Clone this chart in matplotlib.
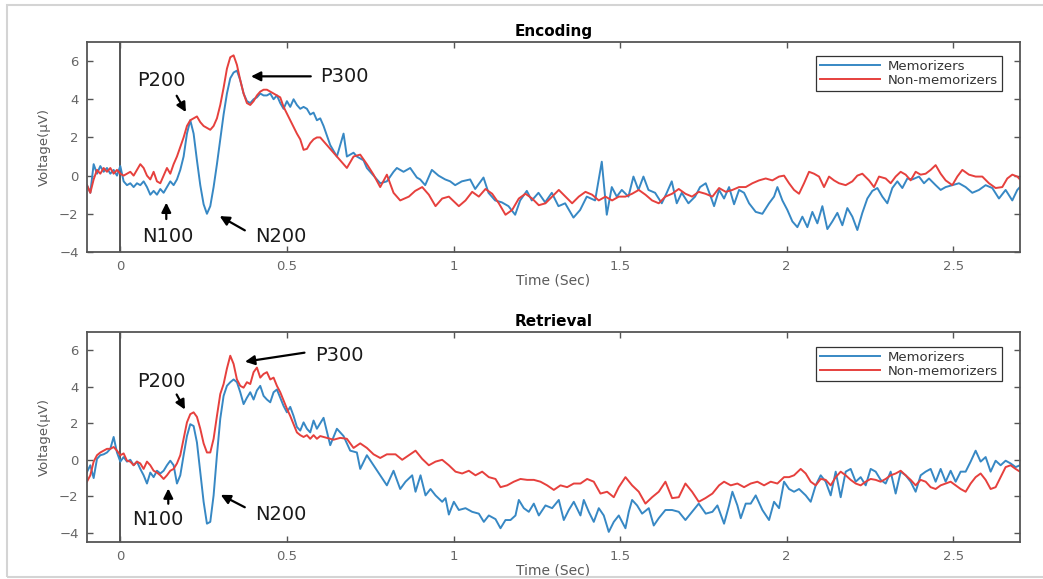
import numpy as np
import matplotlib
matplotlib.use('Agg')
import matplotlib.pyplot as plt
from matplotlib.patches import Rectangle

''' DATA (read off the figure) '''
# sample times of the ERP part, shared by all four traces (-0.10 .. 0.59 s)
erp_t = np.round(np.arange(-0.10, 0.595, 0.01), 2)

# Encoding, memorizers
enc_mem_erp = [-0.5, -0.9, 0.6, 0.1, 0.5, 0.2, 0.4, 0.1, 0.3, 0.0,
               0.5, -0.3, -0.5, -0.4, -0.6, -0.4, -0.5, -0.3, -0.6, -1.0,
               -0.8, -1.0, -0.7, -0.9, -0.6, -0.3, -0.5, -0.2, 0.3, 1.0,
               2.2, 2.9, 2.2, 0.8, -0.5, -1.5, -2.0, -1.6, -0.6, 0.6,
               1.9, 3.2, 4.3, 5.1, 5.4, 5.5, 5.0, 4.3, 3.9, 3.8,
               4.0, 4.1, 4.3, 4.2, 4.2, 4.3, 4.0, 4.2, 3.8, 3.5,
               3.9, 3.6, 4.0, 3.7, 3.5, 3.6, 3.5, 3.2, 3.3, 2.9]
enc_mem_tail_t = [0.60, 0.61, 0.63, 0.65, 0.67, 0.68, 0.70, 0.71, 0.73, 0.74, 0.76, 0.78, 0.80, 0.82, 0.83,
                  0.85, 0.87, 0.89, 0.90, 0.915, 0.935, 0.955, 0.975, 0.99, 1.005, 1.025, 1.05, 1.065, 1.09,
                  1.105, 1.125, 1.145, 1.165, 1.185, 1.20, 1.22, 1.235, 1.255, 1.275, 1.295, 1.315, 1.335,
                  1.36, 1.38, 1.40, 1.425, 1.445, 1.46, 1.475, 1.49, 1.505, 1.525, 1.54, 1.555, 1.57, 1.585,
                  1.605, 1.625, 1.64, 1.655, 1.67, 1.685, 1.705, 1.725, 1.74, 1.757, 1.772, 1.782, 1.797,
                  1.812, 1.827, 1.842, 1.857, 1.872, 1.887, 1.907, 1.927, 1.947, 1.962, 1.972, 1.987, 2.002,
                  2.017, 2.032, 2.047, 2.062, 2.077, 2.092, 2.107, 2.122, 2.137, 2.152, 2.167, 2.182, 2.197,
                  2.212, 2.227, 2.242, 2.257, 2.272, 2.287, 2.302, 2.317, 2.332, 2.347, 2.362, 2.377, 2.397,
                  2.412, 2.427, 2.447, 2.462, 2.477, 2.497, 2.517, 2.537, 2.557, 2.577, 2.597, 2.617, 2.637,
                  2.657, 2.677, 2.692, 2.70]
enc_mem_tail_v = [3.0, 2.6, 1.6, 1.0, 2.2, 1.0, 1.2, 1.0, 0.8, 0.4, 0.0, -0.4, -0.3, 0.2, 0.4,
                  0.2, 0.4, -0.1, -0.2, -0.5, 0.3, 0.0, -0.2, -0.3, -0.5, -0.3, -0.2, -0.7, -0.1,
                  -0.9, -1.3, -1.4, -1.6, -2.05, -1.3, -0.8, -1.3, -0.9, -1.4, -0.9, -1.6, -1.45,
                  -2.2, -1.8, -1.1, -1.3, 0.73, -2.05, -0.6, -1.1, -0.75, -1.1, -0.05, -0.75, -0.05, -0.75,
                  -0.9, -1.45, -0.9, -0.3, -1.45, -0.9, -1.45, -1.1, -0.6, -0.4, -1.1, -1.6, -0.75,
                  -1.2, -0.6, -1.5, -0.75, -0.9, -1.45, -1.9, -2.0, -1.45, -1.1, -0.6, -1.3, -1.8,
                  -2.4, -2.7, -2.15, -2.7, -1.9, -2.5, -1.6, -2.8, -2.4, -1.95, -2.6, -1.7, -2.15,
                  -2.85, -1.95, -1.2, -0.8, -0.65, -1.1, -1.45, -0.65, -0.3, -0.65, -0.15, -0.2, -0.05,
                  -0.4, -0.15, -0.5, -0.75, -0.6, -0.5, -0.4, -0.6, -0.9, -0.75, -0.5, -0.65, -1.2,
                  -0.75, -1.3, -0.75, -0.6]

# Encoding, non-memorizers
enc_non_erp = [-0.5, -0.9, -0.2, 0.3, 0.1, 0.4, 0.2, 0.4, 0.1, 0.3,
               0.1, 0.0, 0.1, 0.2, 0.0, 0.3, 0.6, 0.4, 0.0, -0.2,
               0.2, -0.3, -0.4, 0.0, 0.4, 0.1, 0.6, 1.0, 1.5, 2.0,
               2.6, 2.9, 3.0, 3.1, 2.8, 2.6, 2.5, 2.4, 2.6, 3.0,
               3.7, 4.6, 5.6, 6.2, 6.3, 5.8, 5.0, 4.3, 3.8, 3.7,
               3.9, 4.2, 4.4, 4.5, 4.5, 4.4, 4.3, 4.2, 4.1, 3.6,
               3.25, 2.9, 2.55, 2.2, 1.9, 1.35, 1.4, 1.7, 1.9, 2.0]
enc_non_tail_t = [0.60, 0.62, 0.64, 0.66, 0.68, 0.70, 0.72, 0.74, 0.76, 0.78, 0.80, 0.82, 0.84, 0.866,
                  0.885, 0.906, 0.926, 0.946, 0.966, 0.986, 1.016, 1.036, 1.056, 1.076, 1.096, 1.116, 1.136,
                  1.156, 1.176, 1.196, 1.216, 1.236, 1.256, 1.276, 1.296, 1.316, 1.336, 1.356, 1.376, 1.396,
                  1.416, 1.436, 1.456, 1.476, 1.496, 1.516, 1.536, 1.556, 1.576, 1.596, 1.616, 1.636, 1.656,
                  1.676, 1.696, 1.716, 1.736, 1.756, 1.777, 1.797, 1.817, 1.837, 1.857, 1.877, 1.897, 1.917,
                  1.937, 1.957, 1.977, 1.992, 2.007, 2.022, 2.037, 2.052, 2.067, 2.082, 2.097, 2.112, 2.127,
                  2.142, 2.157, 2.177, 2.197, 2.212, 2.227, 2.247, 2.262, 2.277, 2.297, 2.312, 2.327, 2.342,
                  2.357, 2.372, 2.387, 2.402, 2.417, 2.432, 2.447, 2.462, 2.477, 2.497, 2.512, 2.527, 2.547,
                  2.567, 2.587, 2.607, 2.627, 2.647, 2.662, 2.677, 2.692, 2.70]
enc_non_tail_v = [2.0, 1.6, 1.2, 0.8, 0.4, 1.0, 1.1, 0.6, 0.05, -0.6, 0.05, -0.9, -1.3, -1.1,
                  -0.8, -0.6, -1.0, -1.6, -1.2, -1.1, -1.6, -1.3, -0.85, -1.1, -0.7, -0.95, -1.45,
                  -2.05, -1.8, -1.2, -0.95, -1.2, -1.55, -1.45, -1.1, -0.75, -1.1, -1.45, -1.1, -0.85,
                  -1.0, -1.3, -1.1, -1.3, -1.1, -1.1, -0.95, -0.75, -1.0, -1.3, -1.45, -1.1, -0.95,
                  -0.7, -0.95, -1.1, -0.85, -0.95, -1.1, -0.65, -0.85, -0.75, -0.6, -0.6, -0.4, -0.25,
                  -0.15, -0.25, -0.05, 0.0, -0.4, -0.75, -0.95, -0.4, 0.2, 0.1, -0.05, -0.6, -0.05,
                  -0.25, -0.4, -0.5, -0.3, 0.0, 0.1, -0.25, -0.6, -0.05, -0.15, -0.4, -0.05, 0.2,
                  0.05, -0.25, 0.2, 0.05, 0.1, 0.3, 0.55, 0.1, -0.25, -0.5, -0.05, 0.3, 0.05,
                  -0.05, -0.05, -0.4, -0.65, -0.6, -0.15, 0.05, -0.05, -0.2]

# Retrieval, memorizers
ret_mem_erp = [-0.67, -0.3, -1.0, 0.05, 0.25, 0.3, 0.4, 0.6, 1.25, 0.4,
               -0.1, 0.15, -0.1, 0.0, -0.3, -0.1, -0.5, -0.85, -1.3, -0.7,
               -0.95, -0.6, -0.75, -0.6, -0.3, -0.05, -0.3, -1.3, -0.85, 0.25,
               1.3, 1.95, 1.85, 0.95, -0.7, -2.3, -3.5, -3.4, -1.95, 0.25,
               2.25, 3.5, 4.05, 4.25, 4.4, 4.25, 3.7, 3.05, 3.4, 3.7,
               3.3, 3.8, 4.05, 3.5, 3.3, 3.15, 3.7, 3.85, 3.4, 2.95,
               2.6, 2.9, 2.4, 1.8, 1.6, 2.05, 1.7, 1.5, 2.15, 1.7]
ret_mem_tail_t = [0.61, 0.63, 0.65, 0.67, 0.69, 0.71, 0.72, 0.74, 0.76, 0.78, 0.80, 0.82, 0.84, 0.856,
                  0.876, 0.886, 0.901, 0.916, 0.931, 0.946, 0.966, 0.976, 0.986, 1.001, 1.016, 1.036, 1.056,
                  1.076, 1.091, 1.106, 1.126, 1.141, 1.156, 1.171, 1.186, 1.196, 1.211, 1.226, 1.241, 1.256,
                  1.276, 1.296, 1.316, 1.331, 1.346, 1.361, 1.381, 1.391, 1.406, 1.421, 1.436, 1.451, 1.466,
                  1.481, 1.496, 1.516, 1.526, 1.536, 1.551, 1.566, 1.586, 1.601, 1.616, 1.636, 1.656, 1.676,
                  1.696, 1.716, 1.736, 1.757, 1.777, 1.792, 1.812, 1.827, 1.837, 1.852, 1.862, 1.877, 1.892,
                  1.907, 1.927, 1.947, 1.962, 1.977, 1.992, 2.007, 2.022, 2.037, 2.057, 2.072, 2.087, 2.102,
                  2.117, 2.132, 2.147, 2.162, 2.177, 2.192, 2.207, 2.222, 2.237, 2.252, 2.267, 2.282, 2.297,
                  2.312, 2.327, 2.342, 2.357, 2.372, 2.387, 2.402, 2.417, 2.432, 2.447, 2.462, 2.477, 2.492,
                  2.507, 2.522, 2.537, 2.552, 2.567, 2.582, 2.597, 2.612, 2.627, 2.642, 2.657, 2.672, 2.687,
                  2.70]
ret_mem_tail_v = [2.3, 0.8, 1.7, 1.3, 0.5, 0.4, -0.5, 0.25, -0.3, -0.85, -1.4, -0.6, -1.6, -1.2,
                  -0.85, -1.75, -0.85, -1.95, -1.6, -1.95, -2.3, -2.1, -3.0, -2.3, -2.75, -2.65, -2.85,
                  -2.95, -3.4, -3.05, -3.25, -3.75, -3.3, -3.3, -3.05, -2.2, -2.65, -2.85, -2.4, -3.05,
                  -2.5, -2.65, -2.2, -3.3, -2.75, -2.3, -3.05, -2.2, -2.85, -3.4, -2.65, -3.05, -3.95,
                  -3.4, -3.05, -3.75, -2.85, -2.2, -2.5, -2.95, -2.65, -3.6, -3.2, -2.75, -2.75, -2.85,
                  -3.3, -2.85, -2.4, -2.95, -2.85, -2.5, -3.5, -2.5, -1.75, -2.5, -3.2, -2.4, -2.4,
                  -1.95, -2.75, -3.3, -2.3, -2.65, -1.2, -1.6, -1.75, -1.6, -1.95, -2.3, -1.4, -0.85,
                  -1.2, -1.95, -0.65, -2.05, -0.65, -0.5, -1.2, -0.95, -1.4, -0.5, -0.65, -1.1, -1.3,
                  -0.65, -1.85, -0.65, -0.85, -1.2, -1.75, -0.85, -0.65, -0.5, -1.2, -0.5, -1.2, -0.6,
                  -1.2, -0.65, -0.65, -0.1, 0.5, -0.1, 0.15, -0.65, -0.05, -0.3, -0.05, -0.2, -0.4,
                  -0.3]

# Retrieval, non-memorizers
ret_non_erp = [-1.2, -0.85, -0.1, 0.25, 0.4, 0.5, 0.6, 0.6, 0.7, 0.5,
               0.25, 0.35, -0.05, -0.1, -0.3, -0.1, -0.2, -0.5, -0.1, -0.3,
               -0.6, -0.7, -0.85, -1.05, -0.85, -0.6, -0.5, -0.2, 0.25, 1.15,
               2.05, 2.5, 2.6, 2.35, 1.7, 0.9, 0.4, 0.4, 1.15, 2.4,
               3.6, 4.15, 5.0, 5.7, 5.25, 4.4, 4.05, 3.95, 4.25, 4.15,
               4.8, 5.05, 4.5, 4.7, 4.8, 4.4, 4.5, 4.05, 3.7, 3.25,
               2.8, 2.4, 1.95, 1.5, 1.35, 1.25, 1.35, 1.15, 1.35, 1.15]
ret_non_tail_t = [0.60, 0.62, 0.64, 0.66, 0.68, 0.70, 0.72, 0.74, 0.76, 0.78, 0.80, 0.826, 0.846, 0.866,
                  0.886, 0.906, 0.926, 0.946, 0.966, 0.986, 1.006, 1.026, 1.046, 1.066, 1.086, 1.106, 1.126,
                  1.141, 1.161, 1.181, 1.201, 1.221, 1.241, 1.261, 1.281, 1.301, 1.321, 1.341, 1.361, 1.381,
                  1.401, 1.421, 1.441, 1.461, 1.481, 1.496, 1.516, 1.536, 1.556, 1.576, 1.596, 1.616, 1.636,
                  1.656, 1.676, 1.696, 1.716, 1.736, 1.756, 1.777, 1.797, 1.812, 1.832, 1.852, 1.872, 1.892,
                  1.912, 1.932, 1.952, 1.972, 1.992, 2.007, 2.022, 2.042, 2.057, 2.072, 2.087, 2.102, 2.117,
                  2.132, 2.147, 2.162, 2.177, 2.192, 2.207, 2.222, 2.237, 2.252, 2.267, 2.282, 2.297, 2.312,
                  2.327, 2.342, 2.357, 2.372, 2.387, 2.402, 2.417, 2.432, 2.447, 2.462, 2.477, 2.492, 2.507,
                  2.522, 2.537, 2.552, 2.567, 2.582, 2.597, 2.612, 2.627, 2.642, 2.657, 2.672, 2.687, 2.70]
ret_non_tail_v = [1.3, 1.2, 1.1, 1.2, 1.15, 0.65, 0.9, 0.65, 0.3, 0.1, 0.3, 0.3, 0.0, 0.25,
                  0.5, 0.05, -0.3, -0.1, 0.0, -0.3, -0.65, -0.75, -0.6, -0.85, -0.65, -0.95, -1.05,
                  -1.5, -1.4, -1.2, -1.05, -1.1, -1.1, -1.2, -1.4, -1.65, -1.4, -1.5, -1.3, -1.3,
                  -1.05, -1.2, -1.85, -1.75, -2.05, -1.5, -0.95, -1.4, -1.75, -2.4, -2.05, -1.75, -1.2,
                  -2.1, -2.05, -1.3, -1.75, -2.3, -2.1, -1.85, -1.4, -1.2, -1.4, -1.3, -1.5, -1.3,
                  -1.2, -1.4, -1.2, -1.3, -0.95, -0.95, -0.85, -0.5, -0.75, -1.2, -1.4, -1.05, -1.1,
                  -1.4, -0.95, -0.65, -0.85, -1.1, -1.3, -1.4, -1.2, -1.05, -1.1, -1.2, -1.05, -0.85,
                  -0.75, -0.6, -0.85, -1.1, -1.4, -1.1, -1.2, -1.5, -1.6, -1.4, -1.3, -1.2, -1.4,
                  -1.6, -1.75, -1.3, -0.95, -0.75, -1.1, -1.6, -1.5, -0.95, -0.4, -0.3, -0.5, -0.65]

x_ticks = [0, 0.5, 1, 1.5, 2, 2.5]
x_tick_labels = ['0', '0.5', '1', '1.5', '2', '2.5']
y_ticks = [-4, -2, 0, 2, 4, 6]
series_names = ['Memorizers', 'Non-memorizers']

BLUE = '#3788c4'
RED = '#e6403d'
GREY = '#5a5a5a'

''' PANEL DRAWING FUNCTION '''
def draw_panel(ax, title, mem_t, mem_v, non_t, non_v, ylim, marks, legend_anchor):
    ax.plot(mem_t, mem_v, color=BLUE, lw=1.4, label=series_names[0])
    ax.plot(non_t, non_v, color=RED, lw=1.4, label=series_names[1])
    ax.axvline(0, color='#555555', lw=1.4, zorder=1)

    ax.set_xlim(-0.1, 2.7)
    ax.set_ylim(*ylim)
    ax.set_xticks(x_ticks)
    ax.set_xticklabels(x_tick_labels)
    ax.set_yticks(y_ticks)
    ax.tick_params(direction='in', length=4, width=1, top=True, right=True,
                   colors='#555555', labelcolor='#666666', labelsize=9.5, pad=6)
    for s in ax.spines.values():
        s.set_color('#555555')
        s.set_linewidth(1.3)

    ax.set_title(title, fontsize=11, fontweight='bold', pad=4)
    ax.set_xlabel('Time (Sec)', fontsize=10, color=GREY, labelpad=0)
    ax.set_ylabel('Voltage(μV)', fontsize=9.5, color=GREY, labelpad=6)

    leg = ax.legend(loc='upper right', bbox_to_anchor=legend_anchor, borderaxespad=0,
                    fontsize=9.5, handlelength=4.6, handletextpad=0.6, labelspacing=0.05,
                    borderpad=0.3, fancybox=False, framealpha=1, edgecolor='#333333')
    leg.get_frame().set_linewidth(0.9)
    for txt in leg.get_texts():
        txt.set_color('#333333')

    # component labels with arrows
    for name, (text_pos, ha, tail, head) in marks.items():
        ax.annotate('', xy=head, xytext=tail,
                    arrowprops=dict(arrowstyle='-|>', color='black', lw=1.6, mutation_scale=14))
        ax.text(text_pos[0], text_pos[1], name, ha=ha, va='center', fontsize=14, color='#1a1a1a')


''' MAIN '''
if __name__ == "__main__":
    fig = plt.figure(figsize=(10.43, 5.79), dpi=100)

    # light grey frame round the picture
    fig.patches.append(Rectangle((0.0067, 0.0035), 1.05, 0.988, transform=fig.transFigure,
                                 fill=False, edgecolor='#d4d4d4', lw=1.5))

    ax_enc = fig.add_axes([0.0834, 0.5648, 0.8945, 0.3627])
    ax_ret = fig.add_axes([0.0834, 0.0640, 0.8945, 0.3626])

    enc_marks = {
        'P200': ((0.123, 4.99), 'center', (0.165, 4.31), (0.201, 3.2)),
        'P300': ((0.60, 5.2), 'left', (0.58, 5.2), (0.384, 5.2)),
        'N100': ((0.144, -3.19), 'center', (0.138, -2.42), (0.138, -1.27)),
        'N200': ((0.483, -3.19), 'center', (0.381, -2.94), (0.291, -2.05)),
    }
    ret_marks = {
        'P200': ((0.123, 4.29), 'center', (0.165, 3.71), (0.198, 2.62)),
        'P300': ((0.586, 5.74), 'left', (0.561, 5.89), (0.366, 5.35)),
        'N100': ((0.113, -3.27), 'center', (0.144, -2.56), (0.144, -1.42)),
        'N200': ((0.483, -2.98), 'center', (0.381, -2.67), (0.294, -1.85)),
    }

    draw_panel(ax_enc, 'Encoding',
               np.concatenate([erp_t, enc_mem_tail_t]), enc_mem_erp + enc_mem_tail_v,
               np.concatenate([erp_t, enc_non_tail_t]), enc_non_erp + enc_non_tail_v,
               (-4, 7), enc_marks, (0.981, 0.933))
    draw_panel(ax_ret, 'Retrieval',
               np.concatenate([erp_t, ret_mem_tail_t]), ret_mem_erp + ret_mem_tail_v,
               np.concatenate([erp_t, ret_non_tail_t]), ret_non_erp + ret_non_tail_v,
               (-4.5, 7), ret_marks, (0.981, 0.929))

    fig.savefig('out.png', dpi=100)
